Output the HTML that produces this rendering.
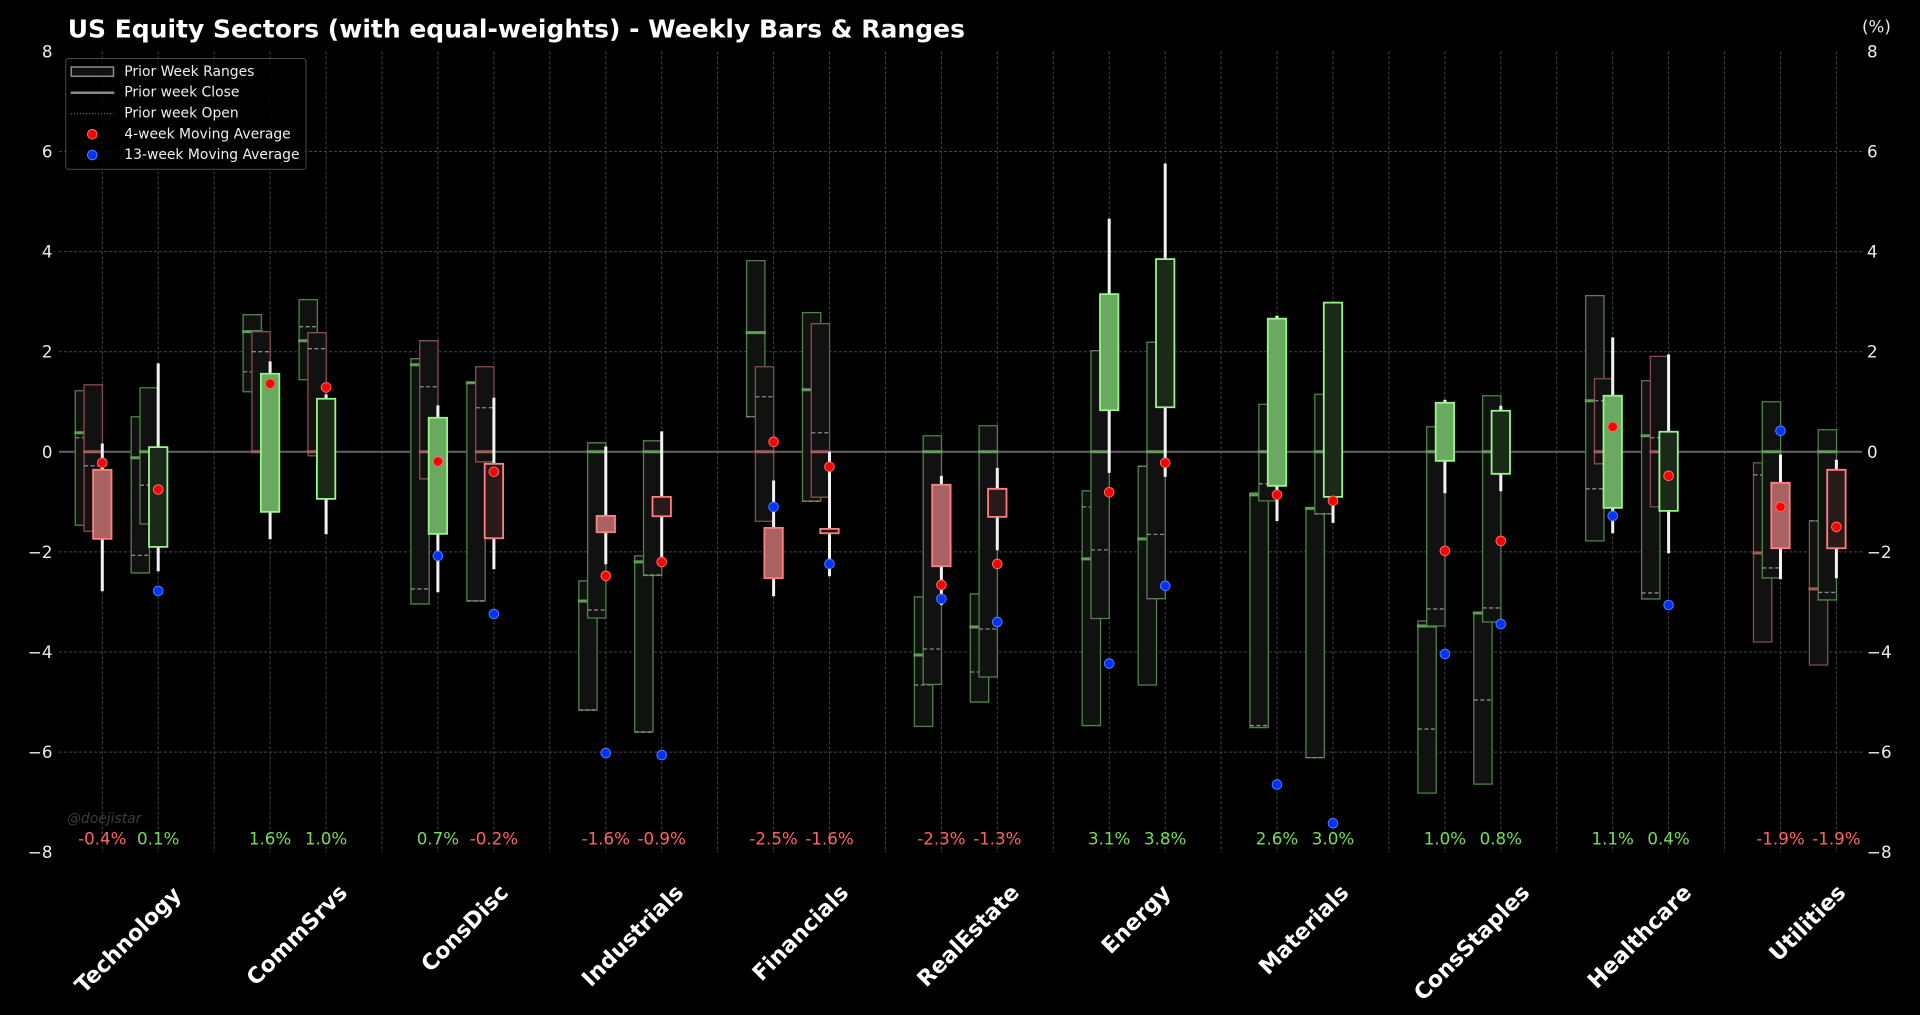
<!DOCTYPE html>
<html><head><meta charset="utf-8">
<style>
html,body{margin:0;padding:0;background:#000;}
svg{display:block;}
svg text{font-family:"DejaVu Sans","Liberation Sans",sans-serif;}
.plot rect,.plot line{vector-effect:non-scaling-stroke;}
.bxg{fill:#111;stroke:#4e8446;stroke-width:1.3}
.bxr{fill:#111;stroke:#8a4c4c;stroke-width:1.3}
.cg{stroke:#5f9e55;stroke-width:3}
.cr{stroke:#a35c5c;stroke-width:3}
.op{stroke:#8a8a8a;stroke-width:1.3;stroke-dasharray:4 2.5}
.wk{stroke:#f2f2f2;stroke-width:3}
.lg{fill:#6aa960;stroke:#98f58a;stroke-width:1.8}
.dg{fill:#1b2a18;stroke:#98f58a;stroke-width:1.8}
.lr{fill:#a86262;stroke:#ff8080;stroke-width:1.8}
.dr{fill:#2b1a1a;stroke:#ff8080;stroke-width:1.8}
.rd{fill:#ff0000;stroke:#ff6a6a;stroke-width:1}
.bd{fill:#0033ff;stroke:#4d7dff;stroke-width:1}
.tk{fill:#ececec;font-size:16.7px}
.pg{fill:#7ada60;font-size:16.7px}
.pr{fill:#ff6464;font-size:16.7px}
.xl{fill:#fff;font-size:22px;font-weight:bold}
.lgt{fill:#eee;font-size:13.9px}
</style></head>
<body>
<svg width="1920" height="1015" viewBox="0 0 1920 1015" xmlns="http://www.w3.org/2000/svg">
<rect x="0" y="0" width="1920" height="1015" fill="#000"/>

<!-- grid -->
<path d="M59 151.5H1862M59 251.6H1862M59 351.7H1862M59 551.9H1862M59 652H1862M59 752.1H1862" stroke="#454545" stroke-width="1" stroke-dasharray="3 2" fill="none"/>
<path d="M102.3 51.4V852.2M158.2 51.4V852.2M214.2 51.4V852.2M270.1 51.4V852.2M326.1 51.4V852.2M382 51.4V852.2M437.9 51.4V852.2M493.9 51.4V852.2M549.8 51.4V852.2M605.8 51.4V852.2M661.7 51.4V852.2M717.6 51.4V852.2M773.6 51.4V852.2M829.5 51.4V852.2M885.5 51.4V852.2M941.4 51.4V852.2M997.3 51.4V852.2M1053.3 51.4V852.2M1109.2 51.4V852.2M1165.2 51.4V852.2M1221.1 51.4V852.2M1277 51.4V852.2M1333 51.4V852.2M1388.9 51.4V852.2M1444.9 51.4V852.2M1500.8 51.4V852.2M1556.7 51.4V852.2M1612.7 51.4V852.2M1668.6 51.4V852.2M1724.6 51.4V852.2M1780.5 51.4V852.2M1836.4 51.4V852.2" stroke="#454545" stroke-width="1" stroke-dasharray="3 2" fill="none"/>

<!-- zero line -->
<line x1="59" y1="451.8" x2="1862" y2="451.8" stroke="#626262" stroke-width="2"/>

<!-- bars (x in px, y in data units) -->
<g class="plot" transform="translate(0,451.8) scale(1,-50.05)">

<g transform="translate(102.3,0)">
<rect x="-27" y="-1.467" width="18.3" height="2.687" class="bxg"/>
<line x1="-28" x2="-7.7" y1="0.38" y2="0.38" class="cg"/>
<line x1="-27" x2="-8.7" y1="0.28" y2="0.28" class="op"/>
<rect x="-18.2" y="-1.587" width="18.3" height="2.927" class="bxr"/>
<line x1="-19.2" x2="1.1" y1="0" y2="0" class="cr"/>
<line x1="-18.2" x2="0.1" y1="-0.28" y2="-0.28" class="op"/>
<line x1="0" x2="0" y1="0.167" y2="-2.787" class="wk"/>
<rect x="-9.2" y="-1.74" width="18.4" height="1.38" class="lr"/>
</g>

<g transform="translate(158.2,0)">
<rect x="-27" y="-2.42" width="18.3" height="3.12" class="bxg"/>
<line x1="-28" x2="-7.7" y1="-0.12" y2="-0.12" class="cg"/>
<line x1="-27" x2="-8.7" y1="-2.07" y2="-2.07" class="op"/>
<rect x="-18.2" y="-1.44" width="18.3" height="2.72" class="bxg"/>
<line x1="-19.2" x2="1.1" y1="0" y2="0" class="cg"/>
<line x1="-18.2" x2="0.1" y1="-0.667" y2="-0.667" class="op"/>
<line x1="0" x2="0" y1="1.767" y2="-2.387" class="wk"/>
<rect x="-9.2" y="-1.9" width="18.4" height="1.993" class="dg"/>
</g>

<g transform="translate(270.1,0)">
<rect x="-27" y="1.2" width="18.3" height="1.54" class="bxg"/>
<line x1="-28" x2="-7.7" y1="2.4" y2="2.4" class="cg"/>
<line x1="-27" x2="-8.7" y1="1.6" y2="1.6" class="op"/>
<rect x="-18.2" y="0" width="18.3" height="2.4" class="bxr"/>
<line x1="-19.2" x2="1.1" y1="0" y2="0" class="cr"/>
<line x1="-18.2" x2="0.1" y1="2.0" y2="2.0" class="op"/>
<line x1="0" x2="0" y1="1.807" y2="-1.747" class="wk"/>
<rect x="-9.2" y="-1.2" width="18.4" height="2.76" class="lg"/>
</g>

<g transform="translate(326.1,0)">
<rect x="-27" y="1.44" width="18.3" height="1.6" class="bxg"/>
<line x1="-28" x2="-7.7" y1="2.22" y2="2.22" class="cg"/>
<line x1="-27" x2="-8.7" y1="2.5" y2="2.5" class="op"/>
<rect x="-18.2" y="-0.08" width="18.3" height="2.46" class="bxr"/>
<line x1="-19.2" x2="1.1" y1="0" y2="0" class="cr"/>
<line x1="-18.2" x2="0.1" y1="2.06" y2="2.06" class="op"/>
<line x1="0" x2="0" y1="1.147" y2="-1.647" class="wk"/>
<rect x="-9.2" y="-0.94" width="18.4" height="2.0" class="dg"/>
</g>

<g transform="translate(437.9,0)">
<rect x="-27" y="-3.04" width="18.3" height="4.9" class="bxg"/>
<line x1="-28" x2="-7.7" y1="1.74" y2="1.74" class="cg"/>
<line x1="-27" x2="-8.7" y1="-2.74" y2="-2.74" class="op"/>
<rect x="-18.2" y="-0.54" width="18.3" height="2.76" class="bxr"/>
<line x1="-19.2" x2="1.1" y1="0" y2="0" class="cr"/>
<line x1="-18.2" x2="0.1" y1="1.3" y2="1.3" class="op"/>
<line x1="0" x2="0" y1="0.927" y2="-2.807" class="wk"/>
<rect x="-9.2" y="-1.64" width="18.4" height="2.32" class="lg"/>
</g>

<g transform="translate(493.9,0)">
<rect x="-27" y="-2.98" width="18.3" height="4.36" class="bxg"/>
<line x1="-28" x2="-7.7" y1="1.38" y2="1.38" class="cg"/>
<line x1="-27" x2="-8.7" y1="-2.98" y2="-2.98" class="op"/>
<rect x="-18.2" y="-0.2" width="18.3" height="1.9" class="bxr"/>
<line x1="-19.2" x2="1.1" y1="0" y2="0" class="cr"/>
<line x1="-18.2" x2="0.1" y1="0.88" y2="0.88" class="op"/>
<line x1="0" x2="0" y1="1.08" y2="-2.347" class="wk"/>
<rect x="-9.2" y="-1.727" width="18.4" height="1.487" class="dr"/>
</g>

<g transform="translate(605.8,0)">
<rect x="-27" y="-5.16" width="18.3" height="2.58" class="bxg"/>
<line x1="-28" x2="-7.7" y1="-2.98" y2="-2.98" class="cg"/>
<line x1="-27" x2="-8.7" y1="-5.16" y2="-5.16" class="op"/>
<rect x="-18.2" y="-3.32" width="18.3" height="3.5" class="bxg"/>
<line x1="-19.2" x2="1.1" y1="0" y2="0" class="cg"/>
<line x1="-18.2" x2="0.1" y1="-3.16" y2="-3.16" class="op"/>
<line x1="0" x2="0" y1="0.107" y2="-2.247" class="wk"/>
<rect x="-9.2" y="-1.607" width="18.4" height="0.327" class="lr"/>
</g>

<g transform="translate(661.7,0)">
<rect x="-27" y="-5.6" width="18.3" height="3.52" class="bxg"/>
<line x1="-28" x2="-7.7" y1="-2.2" y2="-2.2" class="cg"/>
<line x1="-27" x2="-8.7" y1="-5.6" y2="-5.6" class="op"/>
<rect x="-18.2" y="-2.47" width="18.3" height="2.69" class="bxg"/>
<line x1="-19.2" x2="1.1" y1="0" y2="0" class="cg"/>
<line x1="-18.2" x2="0.1" y1="-2.46" y2="-2.46" class="op"/>
<line x1="0" x2="0" y1="0.407" y2="-2.133" class="wk"/>
<rect x="-9.2" y="-1.287" width="18.4" height="0.387" class="dr"/>
</g>

<g transform="translate(773.6,0)">
<rect x="-27" y="0.7" width="18.3" height="3.12" class="bxg"/>
<line x1="-28" x2="-7.7" y1="2.38" y2="2.38" class="cg"/>
<line x1="-27" x2="-8.7" y1="0.7" y2="0.7" class="op"/>
<rect x="-18.2" y="-1.387" width="18.3" height="3.087" class="bxr"/>
<line x1="-19.2" x2="1.1" y1="0" y2="0" class="cr"/>
<line x1="-18.2" x2="0.1" y1="1.1" y2="1.1" class="op"/>
<line x1="0" x2="0" y1="-0.573" y2="-2.887" class="wk"/>
<rect x="-9.2" y="-2.527" width="18.4" height="1.007" class="lr"/>
</g>

<g transform="translate(829.5,0)">
<rect x="-27" y="-0.987" width="18.3" height="3.767" class="bxg"/>
<line x1="-28" x2="-7.7" y1="1.24" y2="1.24" class="cg"/>
<line x1="-27" x2="-8.7" y1="-0.987" y2="-0.987" class="op"/>
<rect x="-18.2" y="-0.907" width="18.3" height="3.467" class="bxr"/>
<line x1="-19.2" x2="1.1" y1="0" y2="0" class="cr"/>
<line x1="-18.2" x2="0.1" y1="0.38" y2="0.38" class="op"/>
<line x1="0" x2="0" y1="0" y2="-2.487" class="wk"/>
<rect x="-9.2" y="-1.627" width="18.4" height="0.087" class="dr"/>
</g>

<g transform="translate(941.4,0)">
<rect x="-27" y="-5.487" width="18.3" height="2.587" class="bxg"/>
<line x1="-28" x2="-7.7" y1="-4.06" y2="-4.06" class="cg"/>
<line x1="-27" x2="-8.7" y1="-4.66" y2="-4.66" class="op"/>
<rect x="-18.2" y="-4.647" width="18.3" height="4.967" class="bxg"/>
<line x1="-19.2" x2="1.1" y1="0" y2="0" class="cg"/>
<line x1="-18.2" x2="0.1" y1="-3.94" y2="-3.94" class="op"/>
<line x1="0" x2="0" y1="-0.48" y2="-3.06" class="wk"/>
<rect x="-9.2" y="-2.287" width="18.4" height="1.627" class="lr"/>
</g>

<g transform="translate(997.3,0)">
<rect x="-27" y="-5.0" width="18.3" height="2.16" class="bxg"/>
<line x1="-28" x2="-7.7" y1="-3.5" y2="-3.5" class="cg"/>
<line x1="-27" x2="-8.7" y1="-4.4" y2="-4.4" class="op"/>
<rect x="-18.2" y="-4.5" width="18.3" height="5.02" class="bxg"/>
<line x1="-19.2" x2="1.1" y1="0" y2="0" class="cg"/>
<line x1="-18.2" x2="0.1" y1="-3.54" y2="-3.54" class="op"/>
<line x1="0" x2="0" y1="-0.32" y2="-1.967" class="wk"/>
<rect x="-9.2" y="-1.3" width="18.4" height="0.56" class="dr"/>
</g>

<g transform="translate(1109.2,0)">
<rect x="-27" y="-5.47" width="18.3" height="4.69" class="bxg"/>
<line x1="-28" x2="-7.7" y1="-2.14" y2="-2.14" class="cg"/>
<line x1="-27" x2="-8.7" y1="-1.10" y2="-1.10" class="op"/>
<rect x="-18.2" y="-3.33" width="18.3" height="5.35" class="bxg"/>
<line x1="-19.2" x2="1.1" y1="0" y2="0" class="cg"/>
<line x1="-18.2" x2="0.1" y1="-1.96" y2="-1.96" class="op"/>
<line x1="0" x2="0" y1="4.66" y2="-0.42" class="wk"/>
<rect x="-9.2" y="0.83" width="18.4" height="2.32" class="lg"/>
</g>

<g transform="translate(1165.2,0)">
<rect x="-27" y="-4.66" width="18.3" height="4.37" class="bxg"/>
<line x1="-28" x2="-7.7" y1="-1.74" y2="-1.74" class="cg"/>
<line x1="-27" x2="-8.7" y1="-0.29" y2="-0.29" class="op"/>
<rect x="-18.2" y="-2.935" width="18.3" height="5.125" class="bxg"/>
<line x1="-19.2" x2="1.1" y1="0" y2="0" class="cg"/>
<line x1="-18.2" x2="0.1" y1="-1.65" y2="-1.65" class="op"/>
<line x1="0" x2="0" y1="5.76" y2="-0.50" class="wk"/>
<rect x="-9.2" y="0.89" width="18.4" height="2.96" class="dg"/>
</g>

<g transform="translate(1277,0)">
<rect x="-27" y="-5.51" width="18.3" height="4.69" class="bxg"/>
<line x1="-28" x2="-7.7" y1="-0.86" y2="-0.86" class="cg"/>
<line x1="-27" x2="-8.7" y1="-5.47" y2="-5.47" class="op"/>
<rect x="-18.2" y="-0.98" width="18.3" height="1.93" class="bxg"/>
<line x1="-19.2" x2="1.1" y1="0" y2="0" class="cg"/>
<line x1="-18.2" x2="0.1" y1="-0.64" y2="-0.64" class="op"/>
<line x1="0" x2="0" y1="2.72" y2="-1.385" class="wk"/>
<rect x="-9.2" y="-0.68" width="18.4" height="3.34" class="lg"/>
</g>

<g transform="translate(1333,0)">
<rect x="-27" y="-6.11" width="18.3" height="4.98" class="bxg"/>
<line x1="-28" x2="-7.7" y1="-1.13" y2="-1.13" class="cg"/>
<line x1="-27" x2="-8.7" y1="-6.11" y2="-6.11" class="op"/>
<rect x="-18.2" y="-1.24" width="18.3" height="2.39" class="bxg"/>
<line x1="-19.2" x2="1.1" y1="0" y2="0" class="cg"/>
<line x1="-18.2" x2="0.1" y1="-1.24" y2="-1.24" class="op"/>
<line x1="0" x2="0" y1="3.0" y2="-1.42" class="wk"/>
<rect x="-9.2" y="-0.9" width="18.4" height="3.88" class="dg"/>
</g>

<g transform="translate(1444.9,0)">
<rect x="-27" y="-6.82" width="18.3" height="3.44" class="bxg"/>
<line x1="-28" x2="-7.7" y1="-3.48" y2="-3.48" class="cg"/>
<line x1="-27" x2="-8.7" y1="-5.54" y2="-5.54" class="op"/>
<rect x="-18.2" y="-3.48" width="18.3" height="3.98" class="bxg"/>
<line x1="-19.2" x2="1.1" y1="0" y2="0" class="cg"/>
<line x1="-18.2" x2="0.1" y1="-3.14" y2="-3.14" class="op"/>
<line x1="0" x2="0" y1="1.04" y2="-0.827" class="wk"/>
<rect x="-9.2" y="-0.18" width="18.4" height="1.16" class="lg"/>
</g>

<g transform="translate(1500.8,0)">
<rect x="-27" y="-6.64" width="18.3" height="3.42" class="bxg"/>
<line x1="-28" x2="-7.7" y1="-3.22" y2="-3.22" class="cg"/>
<line x1="-27" x2="-8.7" y1="-4.96" y2="-4.96" class="op"/>
<rect x="-18.2" y="-3.4" width="18.3" height="4.52" class="bxg"/>
<line x1="-19.2" x2="1.1" y1="0" y2="0" class="cg"/>
<line x1="-18.2" x2="0.1" y1="-3.12" y2="-3.12" class="op"/>
<line x1="0" x2="0" y1="0.92" y2="-0.787" class="wk"/>
<rect x="-9.2" y="-0.44" width="18.4" height="1.26" class="dg"/>
</g>

<g transform="translate(1612.7,0)">
<rect x="-27" y="-1.78" width="18.3" height="4.9" class="bxg"/>
<line x1="-28" x2="-7.7" y1="1.02" y2="1.02" class="cg"/>
<line x1="-27" x2="-8.7" y1="-0.74" y2="-0.74" class="op"/>
<rect x="-18.2" y="-0.24" width="18.3" height="1.7" class="bxr"/>
<line x1="-19.2" x2="1.1" y1="0" y2="0" class="cr"/>
<line x1="-18.2" x2="0.1" y1="1.02" y2="1.02" class="op"/>
<line x1="0" x2="0" y1="2.287" y2="-1.627" class="wk"/>
<rect x="-9.2" y="-1.12" width="18.4" height="2.24" class="lg"/>
</g>

<g transform="translate(1668.6,0)">
<rect x="-27" y="-2.94" width="18.3" height="4.36" class="bxg"/>
<line x1="-28" x2="-7.7" y1="0.32" y2="0.32" class="cg"/>
<line x1="-27" x2="-8.7" y1="-2.82" y2="-2.82" class="op"/>
<rect x="-18.2" y="-1.1" width="18.3" height="3.007" class="bxr"/>
<line x1="-19.2" x2="1.1" y1="0" y2="0" class="cr"/>
<line x1="-18.2" x2="0.1" y1="0.28" y2="0.28" class="op"/>
<line x1="0" x2="0" y1="1.947" y2="-2.027" class="wk"/>
<rect x="-9.2" y="-1.18" width="18.4" height="1.58" class="dg"/>
</g>

<g transform="translate(1780.5,0)">
<rect x="-27" y="-3.8" width="18.3" height="3.58" class="bxr"/>
<line x1="-28" x2="-7.7" y1="-2.02" y2="-2.02" class="cr"/>
<line x1="-27" x2="-8.7" y1="-0.46" y2="-0.46" class="op"/>
<rect x="-18.2" y="-2.52" width="18.3" height="3.52" class="bxg"/>
<line x1="-19.2" x2="1.1" y1="0" y2="0" class="cg"/>
<line x1="-18.2" x2="0.1" y1="-2.32" y2="-2.32" class="op"/>
<line x1="0" x2="0" y1="-0.053" y2="-2.547" class="wk"/>
<rect x="-9.2" y="-1.927" width="18.4" height="1.307" class="lr"/>
</g>

<g transform="translate(1836.4,0)">
<rect x="-27" y="-4.26" width="18.3" height="2.88" class="bxr"/>
<line x1="-28" x2="-7.7" y1="-2.74" y2="-2.74" class="cr"/>
<line x1="-27" x2="-8.7" y1="-1.38" y2="-1.38" class="op"/>
<rect x="-18.2" y="-2.96" width="18.3" height="3.4" class="bxg"/>
<line x1="-19.2" x2="1.1" y1="0" y2="0" class="cg"/>
<line x1="-18.2" x2="0.1" y1="-2.81" y2="-2.81" class="op"/>
<line x1="0" x2="0" y1="-0.16" y2="-2.527" class="wk"/>
<rect x="-9.2" y="-1.927" width="18.4" height="1.567" class="dr"/>
</g>
</g>

<!-- 4-week MA dots -->
<g>
<circle cx="102.3" cy="462.8" r="4.8" class="rd"/>
<circle cx="158.2" cy="489.5" r="4.8" class="rd"/>
<circle cx="270.1" cy="383.7" r="4.8" class="rd"/>
<circle cx="326.1" cy="387.4" r="4.8" class="rd"/>
<circle cx="437.9" cy="461.5" r="4.8" class="rd"/>
<circle cx="493.9" cy="471.8" r="4.8" class="rd"/>
<circle cx="605.8" cy="575.9" r="4.8" class="rd"/>
<circle cx="661.7" cy="561.9" r="4.8" class="rd"/>
<circle cx="773.6" cy="441.8" r="4.8" class="rd"/>
<circle cx="829.5" cy="466.8" r="4.8" class="rd"/>
<circle cx="941.4" cy="584.9" r="4.8" class="rd"/>
<circle cx="997.3" cy="563.9" r="4.8" class="rd"/>
<circle cx="1109.2" cy="492.3" r="4.8" class="rd"/>
<circle cx="1165.2" cy="462.8" r="4.8" class="rd"/>
<circle cx="1277" cy="494.8" r="4.8" class="rd"/>
<circle cx="1333" cy="500.8" r="4.8" class="rd"/>
<circle cx="1444.9" cy="550.9" r="4.8" class="rd"/>
<circle cx="1500.8" cy="540.9" r="4.8" class="rd"/>
<circle cx="1612.7" cy="426.8" r="4.8" class="rd"/>
<circle cx="1668.6" cy="475.8" r="4.8" class="rd"/>
<circle cx="1780.5" cy="506.9" r="4.8" class="rd"/>
<circle cx="1836.4" cy="526.9" r="4.8" class="rd"/>
</g>
<!-- 13-week MA dots -->
<g>
<circle cx="158.2" cy="590.9" r="4.8" class="bd"/>
<circle cx="437.9" cy="555.9" r="4.8" class="bd"/>
<circle cx="493.9" cy="614" r="4.8" class="bd"/>
<circle cx="605.8" cy="753.1" r="4.8" class="bd"/>
<circle cx="661.7" cy="755.1" r="4.8" class="bd"/>
<circle cx="773.6" cy="506.9" r="4.8" class="bd"/>
<circle cx="829.5" cy="563.9" r="4.8" class="bd"/>
<circle cx="941.4" cy="598.9" r="4.8" class="bd"/>
<circle cx="997.3" cy="622" r="4.8" class="bd"/>
<circle cx="1109.2" cy="663.5" r="4.8" class="bd"/>
<circle cx="1165.2" cy="585.9" r="4.8" class="bd"/>
<circle cx="1277" cy="784.6" r="4.8" class="bd"/>
<circle cx="1333" cy="823.2" r="4.8" class="bd"/>
<circle cx="1444.9" cy="654" r="4.8" class="bd"/>
<circle cx="1500.8" cy="624" r="4.8" class="bd"/>
<circle cx="1612.7" cy="515.9" r="4.8" class="bd"/>
<circle cx="1668.6" cy="605" r="4.8" class="bd"/>
<circle cx="1780.5" cy="430.8" r="4.8" class="bd"/>
</g>

<!-- weekly % labels -->
<g text-anchor="middle">
<text x="102.3" y="844.3" class="pr">-0.4%</text>
<text x="158.2" y="844.3" class="pg">0.1%</text>
<text x="270.1" y="844.3" class="pg">1.6%</text>
<text x="326.1" y="844.3" class="pg">1.0%</text>
<text x="437.9" y="844.3" class="pg">0.7%</text>
<text x="493.9" y="844.3" class="pr">-0.2%</text>
<text x="605.8" y="844.3" class="pr">-1.6%</text>
<text x="661.7" y="844.3" class="pr">-0.9%</text>
<text x="773.6" y="844.3" class="pr">-2.5%</text>
<text x="829.5" y="844.3" class="pr">-1.6%</text>
<text x="941.4" y="844.3" class="pr">-2.3%</text>
<text x="997.3" y="844.3" class="pr">-1.3%</text>
<text x="1109.2" y="844.3" class="pg">3.1%</text>
<text x="1165.2" y="844.3" class="pg">3.8%</text>
<text x="1277" y="844.3" class="pg">2.6%</text>
<text x="1333" y="844.3" class="pg">3.0%</text>
<text x="1444.9" y="844.3" class="pg">1.0%</text>
<text x="1500.8" y="844.3" class="pg">0.8%</text>
<text x="1612.7" y="844.3" class="pg">1.1%</text>
<text x="1668.6" y="844.3" class="pg">0.4%</text>
<text x="1780.5" y="844.3" class="pr">-1.9%</text>
<text x="1836.4" y="844.3" class="pr">-1.9%</text>
</g>

<!-- watermark -->
<text x="67" y="823" font-size="13.9" font-style="italic" fill="#3c3c3c">@doejistar</text>

<!-- y tick labels -->
<g text-anchor="end" class="tk">
<text x="52.5" y="57.4" class="tk">8</text>
<text x="52.5" y="157.5" class="tk">6</text>
<text x="52.5" y="257.6" class="tk">4</text>
<text x="52.5" y="357.7" class="tk">2</text>
<text x="52.5" y="457.8" class="tk">0</text>
<text x="52.5" y="557.9" class="tk">−2</text>
<text x="52.5" y="658" class="tk">−4</text>
<text x="52.5" y="758.1" class="tk">−6</text>
<text x="52.5" y="858.2" class="tk">−8</text>
</g>
<g text-anchor="start">
<text x="1867" y="57.4" class="tk">8</text>
<text x="1867" y="157.5" class="tk">6</text>
<text x="1867" y="257.6" class="tk">4</text>
<text x="1867" y="357.7" class="tk">2</text>
<text x="1867" y="457.8" class="tk">0</text>
<text x="1867" y="557.9" class="tk">−2</text>
<text x="1867" y="658" class="tk">−4</text>
<text x="1867" y="758.1" class="tk">−6</text>
<text x="1867" y="858.2" class="tk">−8</text>
<text x="1862" y="32.5" class="tk">(%)</text>
</g>

<!-- title -->
<text x="67.7" y="37.3" fill="#fff" font-size="25" font-weight="bold">US Equity Sectors (with equal-weights) - Weekly Bars &amp; Ranges</text>

<!-- legend -->
<rect x="65.7" y="58.5" width="240.3" height="110.8" rx="3" fill="rgba(0,0,0,0.82)" stroke="#4a4a4a" stroke-width="1"/>
<rect x="71.2" y="67" width="42.3" height="9.3" fill="#111" stroke="#8a8a8a" stroke-width="1.5"/>
<line x1="70.7" y1="92.7" x2="114.3" y2="92.7" stroke="#8a8a8a" stroke-width="2.5"/>
<line x1="71" y1="113.7" x2="113.5" y2="113.7" stroke="#7a7a7a" stroke-width="1" stroke-dasharray="1.2 1.8"/>
<circle cx="92.3" cy="134.3" r="4.8" class="rd"/>
<circle cx="92.3" cy="155" r="4.8" class="bd"/>
<text x="124.3" y="75.9" class="lgt">Prior Week Ranges</text>
<text x="124.3" y="96.7" class="lgt">Prior week Close</text>
<text x="124.3" y="117.7" class="lgt">Prior week Open</text>
<text x="124.3" y="138.3" class="lgt">4-week Moving Average</text>
<text x="124.3" y="159" class="lgt">13-week Moving Average</text>

<!-- x labels -->
<text x="84" y="994.4" class="xl" transform="rotate(-45 84 994.4)">Technology</text>
<text x="255.7" y="986.6" class="xl" transform="rotate(-45 255.7 986.6)">CommSrvs</text>
<text x="430.3" y="973" class="xl" transform="rotate(-45 430.3 973)">ConsDisc</text>
<text x="590.9" y="987.7" class="xl" transform="rotate(-45 590.9 987.7)">Industrials</text>
<text x="761.5" y="982.1" class="xl" transform="rotate(-45 761.5 982.1)">Financials</text>
<text x="926.3" y="988" class="xl" transform="rotate(-45 926.3 988)">RealEstate</text>
<text x="1110.6" y="955" class="xl" transform="rotate(-45 1110.6 955)">Energy</text>
<text x="1268" y="975.9" class="xl" transform="rotate(-45 1268 975.9)">Materials</text>
<text x="1423" y="1001.7" class="xl" transform="rotate(-45 1423 1001.7)">ConsStaples</text>
<text x="1596.8" y="989.7" class="xl" transform="rotate(-45 1596.8 989.7)">Healthcare</text>
<text x="1778.2" y="962.5" class="xl" transform="rotate(-45 1778.2 962.5)">Utilities</text>
</svg>
</body></html>
